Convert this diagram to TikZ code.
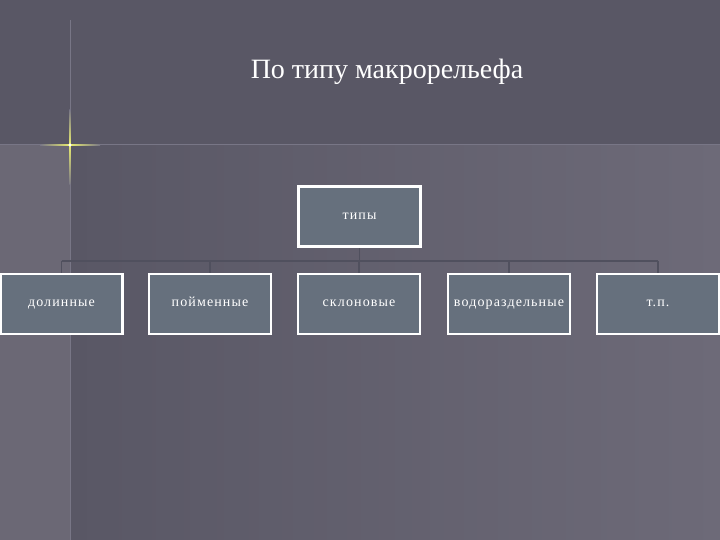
\documentclass[tikz,border=0pt]{standalone}
\usepackage{fontspec}
\setmainfont{Liberation Serif}
\newfontfamily\boxfont[LetterSpace=8]{Liberation Serif}
\usetikzlibrary{calc}
\definecolor{bgtop}{HTML}{595765}
\definecolor{bgleft}{HTML}{6B6875}
\definecolor{bgdark}{HTML}{595765}
\definecolor{bgright}{HTML}{6D6A78}
\definecolor{boxfill}{HTML}{66707D}
\definecolor{connc}{HTML}{50505E}
\definecolor{linec}{HTML}{787686}
\definecolor{starc}{HTML}{E8EC70}
\tikzset{
  typebox/.style={draw=white, line width=2.2pt, fill=boxfill, minimum width=122pt, minimum height=60pt, inner sep=0pt, text height=1.4ex, text depth=0.2ex, text=white, font=\boxfont\fontsize{14}{16}\selectfont},
  conn/.style={draw=connc, line width=1.4pt}
}
\begin{document}
\begin{tikzpicture}[x=1pt,y=-1pt]
\useasboundingbox (0,0) rectangle (720,540);
% background
\fill[bgtop] (0,0) rectangle (720,145);
\fill[bgleft] (0,145) rectangle (70,540);
\shade[left color=bgdark, right color=bgright] (70,145) rectangle (720,540);
\draw[linec, line width=1pt] (0,145) -- (720,145);
\draw[linec, line width=1pt] (70,20) -- (70,540);
% star
\shade[top color=linec, bottom color=starc] (69.3,110) rectangle (70.7,145);
\shade[top color=starc, bottom color=linec] (69.3,145) rectangle (70.7,185);
\shade[left color=linec, right color=starc] (40,144.3) rectangle (70,145.7);
\shade[left color=starc, right color=linec] (70,144.3) rectangle (100,145.7);
\fill[white] (70,145) circle (1.6);
% title
\node[text=white, font=\fontsize{28}{32}\selectfont] (title) at (387,72) {По типу макрорельефа};
% boxes
\node[typebox] (top) at (359.5,216.5) {типы};
\node[typebox] (a) at (61.5,304) {долинные};
\node[typebox] (b) at (210,304) {пойменные};
\node[typebox] (c) at (359,304) {склоновые};
\node[typebox] (d) at (509,304) {водораздельные};
\node[typebox] (e) at (658,304) {т.п.};
% connectors
\coordinate (bus) at (0,261);
\draw[conn] (top.south) -- (top.south |- bus);
\draw[conn] (a.north |- bus) -- (e.north |- bus);
\foreach \n in {a,b,c,d,e} \draw[conn] (\n.north |- bus) -- (\n.north);
% redraw boxes on top
\node[typebox] at (top) {типы};
\node[typebox] at (a) {долинные};
\node[typebox] at (b) {пойменные};
\node[typebox] at (c) {склоновые};
\node[typebox] at (d) {водораздельные};
\node[typebox] at (e) {т.п.};
\end{tikzpicture}
\end{document}
